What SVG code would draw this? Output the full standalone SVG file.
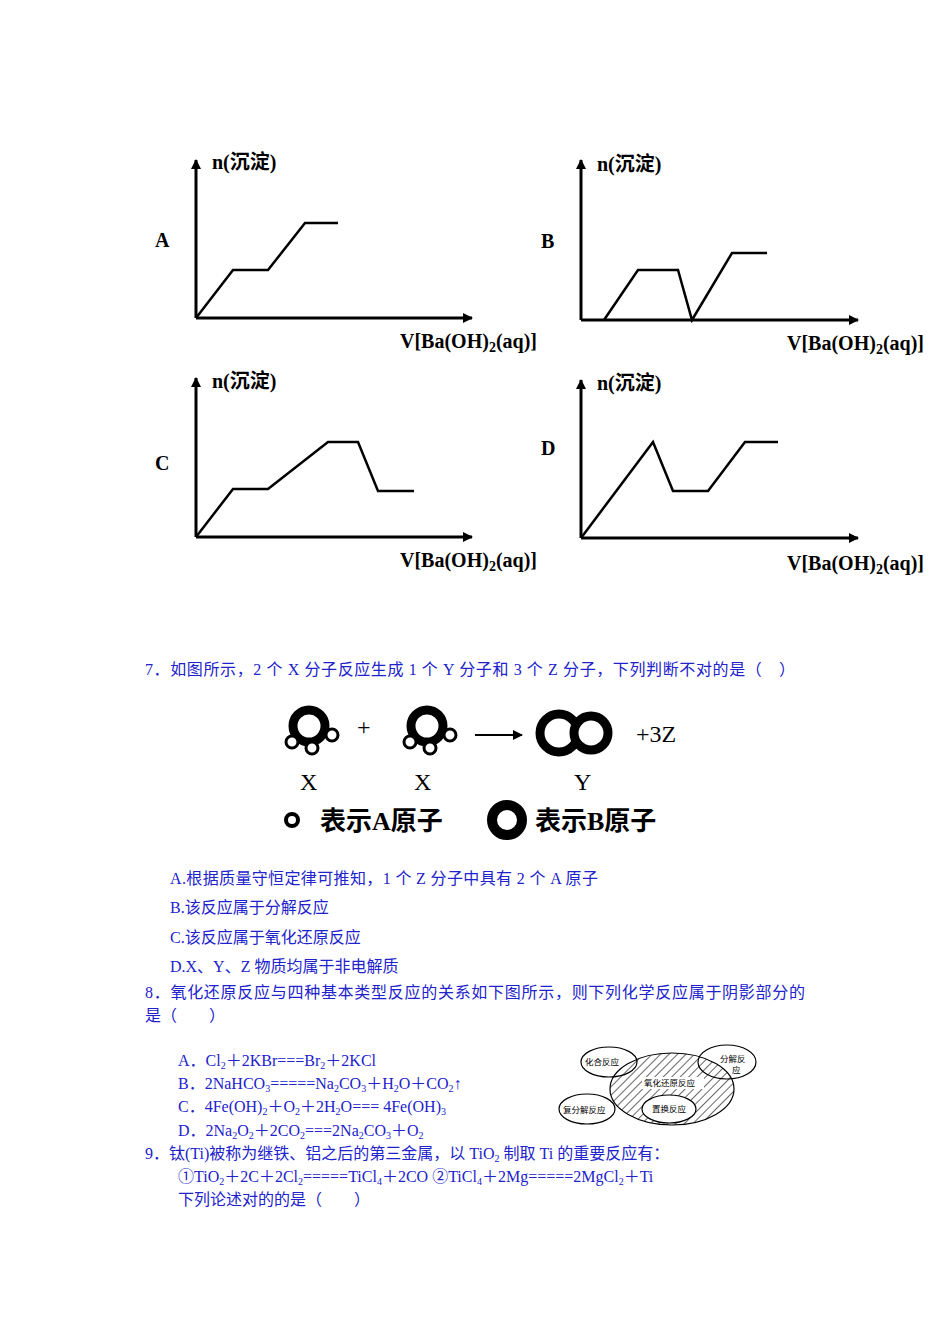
<svg xmlns="http://www.w3.org/2000/svg" width="950" height="1344" viewBox="0 0 950 1344">
<defs>
<marker id="ah" markerWidth="10" markerHeight="10" refX="9" refY="5" orient="auto" markerUnits="userSpaceOnUse"><path d="M0,0 L10,5 L0,10 Z" fill="#000"/></marker>
<pattern id="hatch" width="6" height="6" patternUnits="userSpaceOnUse" patternTransform="rotate(45)"><line x1="0" y1="0" x2="0" y2="6" stroke="#333" stroke-width="1.5"/></pattern>
</defs>
<style>
.ax{stroke:#000;stroke-width:3;fill:none}
.cv{stroke:#000;stroke-width:2.5;fill:none}
.gl{font-family:"Liberation Serif","Noto Sans CJK SC",serif;font-size:20px;font-weight:bold}
.q{font-family:"Liberation Serif","Noto Sans CJK SC",serif;font-size:16px;fill:#2222cc}
.mol{font-family:"Liberation Serif",serif;font-size:24px}
.lg{font-family:"Liberation Serif","Noto Sans CJK SC",serif;font-size:26px;font-weight:bold}
.bA{fill:#fff;stroke:#000;stroke-width:9}
.sA{fill:#fff;stroke:#000;stroke-width:3}
.el{fill:#fff;stroke:#000;stroke-width:1.2}
.et{font-family:"Noto Sans CJK SC",sans-serif;font-size:8.5px}
</style>
<rect width="950" height="1344" fill="#fff"/>
<g id="graphA">
<path class="ax" d="M196,318 V160" marker-end="url(#ah)"/><path class="ax" d="M196,318 H472" marker-end="url(#ah)"/>
<polyline class="cv" points="196,318 233,270 268,270 305,223 338,223"/>
<text class="gl" x="212" y="169">n(沉淀)</text><text class="gl" x="155" y="247">A</text>
<text class="gl" x="400" y="348">V[Ba(OH)<tspan font-size="14" dy="4">2</tspan><tspan dy="-4">(aq)]</tspan></text>
</g>
<g id="graphB">
<path class="ax" d="M581,320 V160" marker-end="url(#ah)"/><path class="ax" d="M581,320 H858" marker-end="url(#ah)"/>
<polyline class="cv" points="604,320 638,270 678,270 692,320 732,253 767,253"/>
<text class="gl" x="597" y="171">n(沉淀)</text><text class="gl" x="541" y="248">B</text>
<text class="gl" x="787" y="350">V[Ba(OH)<tspan font-size="14" dy="4">2</tspan><tspan dy="-4">(aq)]</tspan></text>
</g>
<g id="graphC">
<path class="ax" d="M196,537 V378" marker-end="url(#ah)"/><path class="ax" d="M196,537 H472" marker-end="url(#ah)"/>
<polyline class="cv" points="196,537 233,489 268,489 328,442 358,442 378,491 414,491"/>
<text class="gl" x="212" y="388">n(沉淀)</text><text class="gl" x="155" y="470">C</text>
<text class="gl" x="400" y="567">V[Ba(OH)<tspan font-size="14" dy="4">2</tspan><tspan dy="-4">(aq)]</tspan></text>
</g>
<g id="graphD">
<path class="ax" d="M581,538 V380" marker-end="url(#ah)"/><path class="ax" d="M581,538 H858" marker-end="url(#ah)"/>
<polyline class="cv" points="581,538 653,442 673,491 708,491 745,442 778,442"/>
<text class="gl" x="597" y="390">n(沉淀)</text><text class="gl" x="541" y="455">D</text>
<text class="gl" x="787" y="570">V[Ba(OH)<tspan font-size="14" dy="4">2</tspan><tspan dy="-4">(aq)]</tspan></text>
</g>
<text class="q" x="145" y="675" textLength="650" lengthAdjust="spacing">7．如图所示，2 个 X 分子反应生成 1 个 Y 分子和 3 个 Z 分子，下列判断不对的是（　）</text>
<g id="molX1"><circle class="bA" cx="309" cy="726" r="16"/><circle class="sA" cx="292" cy="742" r="6"/><circle class="sA" cx="312" cy="748" r="6"/><circle class="sA" cx="332" cy="735" r="6"/></g>
<text class="mol" x="357" y="735">+</text>
<g id="molX2"><circle class="bA" cx="427" cy="726" r="16"/><circle class="sA" cx="410" cy="742" r="6"/><circle class="sA" cx="430" cy="748" r="6"/><circle class="sA" cx="450" cy="735" r="6"/></g>
<g id="connectors"><path d="M475,735 H522" stroke="#000" stroke-width="2" marker-end="url(#ah)"/></g>
<g id="molY"><circle class="bA" cx="559" cy="733" r="19"/><circle class="bA" cx="591" cy="733" r="17"/></g>
<text class="mol" x="636" y="742">+3Z</text>
<text class="mol" x="300" y="790">X</text><text class="mol" x="414" y="790">X</text><text class="mol" x="574" y="790">Y</text>
<circle cx="292" cy="820" r="6" fill="#fff" stroke="#000" stroke-width="4"/>
<text class="lg" x="320" y="830">表示A原子</text>
<circle cx="507" cy="820" r="15" fill="#fff" stroke="#000" stroke-width="10"/>
<text class="lg" x="535" y="830">表示B原子</text>
<text class="q" x="170" y="884" textLength="428" lengthAdjust="spacing">A.根据质量守恒定律可推知，1 个 Z 分子中具有 2 个 A 原子</text>
<text class="q" x="170" y="913">B.该反应属于分解反应</text>
<text class="q" x="170" y="943">C.该反应属于氧化还原反应</text>
<text class="q" x="170" y="972">D.X、Y、Z 物质均属于非电解质</text>
<text class="q" x="145" y="998" textLength="660" lengthAdjust="spacing">8．氧化还原反应与四种基本类型反应的关系如下图所示，则下列化学反应属于阴影部分的</text>
<text class="q" x="145" y="1021">是（　　）</text>
<text class="q" x="178" y="1066">A．Cl<tspan font-size="10" dy="3">2</tspan><tspan dy="-3">＋2KBr===Br</tspan><tspan font-size="10" dy="3">2</tspan><tspan dy="-3">＋2KCl</tspan></text>
<text class="q" x="178" y="1089">B．2NaHCO<tspan font-size="10" dy="3">3</tspan><tspan dy="-3">=====Na</tspan><tspan font-size="10" dy="3">2</tspan><tspan dy="-3">CO</tspan><tspan font-size="10" dy="3">3</tspan><tspan dy="-3">＋H</tspan><tspan font-size="10" dy="3">2</tspan><tspan dy="-3">O＋CO</tspan><tspan font-size="10" dy="3">2</tspan><tspan dy="-3">↑</tspan></text>
<text class="q" x="178" y="1112">C．4Fe(OH)<tspan font-size="10" dy="3">2</tspan><tspan dy="-3">＋O</tspan><tspan font-size="10" dy="3">2</tspan><tspan dy="-3">＋2H</tspan><tspan font-size="10" dy="3">2</tspan><tspan dy="-3">O=== 4Fe(OH)</tspan><tspan font-size="10" dy="3">3</tspan></text>
<text class="q" x="178" y="1136">D．2Na<tspan font-size="10" dy="3">2</tspan><tspan dy="-3">O</tspan><tspan font-size="10" dy="3">2</tspan><tspan dy="-3">＋2CO</tspan><tspan font-size="10" dy="3">2</tspan><tspan dy="-3">===2Na</tspan><tspan font-size="10" dy="3">2</tspan><tspan dy="-3">CO</tspan><tspan font-size="10" dy="3">3</tspan><tspan dy="-3">＋O</tspan><tspan font-size="10" dy="3">2</tspan></text>
<g id="venn">
<ellipse cx="672" cy="1089" rx="62" ry="36" fill="url(#hatch)" stroke="#000" stroke-width="1.2"/>
<ellipse class="el" cx="609" cy="1062" rx="28" ry="15" fill-opacity="0"/>
<ellipse class="el" cx="727" cy="1062" rx="29" ry="17" fill-opacity="0"/>
<ellipse class="el" cx="587" cy="1109" rx="28" ry="15"/>
<ellipse class="el" cx="669" cy="1109" rx="27" ry="14"/>
<rect x="642" y="1077" width="62" height="12" fill="#fff"/>
<text class="et" x="585" y="1065">化合反应</text>
<text class="et" x="720" y="1062">分解反</text><text class="et" x="732" y="1073">应</text>
<text class="et" x="644" y="1086">氧化还原反应</text>
<text class="et" x="563" y="1113">复分解反应</text>
<text class="et" x="652" y="1112">置换反应</text>
</g>
<text class="q" x="145" y="1159">9．钛(Ti)被称为继铁、铝之后的第三金属，以 TiO<tspan font-size="10" dy="3">2</tspan><tspan dy="-3"> 制取 Ti 的重要反应有：</tspan></text>
<text class="q" x="178" y="1182">①TiO<tspan font-size="10" dy="3">2</tspan><tspan dy="-3">＋2C＋2Cl</tspan><tspan font-size="10" dy="3">2</tspan><tspan dy="-3">=====TiCl</tspan><tspan font-size="10" dy="3">4</tspan><tspan dy="-3">＋2CO ②TiCl</tspan><tspan font-size="10" dy="3">4</tspan><tspan dy="-3">＋2Mg=====2MgCl</tspan><tspan font-size="10" dy="3">2</tspan><tspan dy="-3">＋Ti</tspan></text>
<text class="q" x="178" y="1205">下列论述对的的是（　　）</text>
</svg>
